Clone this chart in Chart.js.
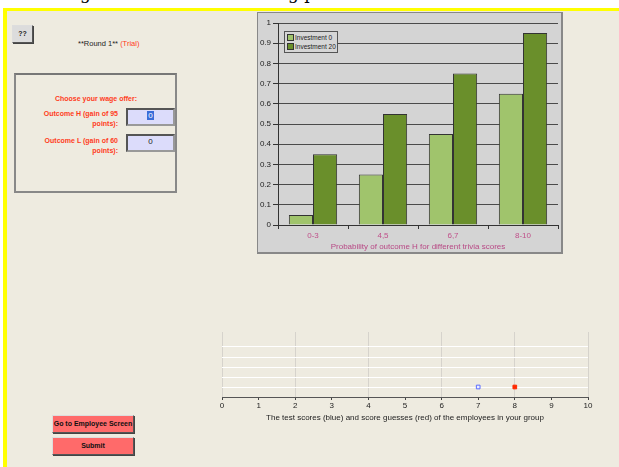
<!DOCTYPE html>
<html><head><meta charset="utf-8">
<script src="https://cdn.jsdelivr.net/npm/chart.js@4/dist/chart.umd.min.js"></script>
<style>
html,body{margin:0;padding:0;background:#fff;width:619px;height:467px;overflow:hidden;font-family:"Liberation Sans",Arial,sans-serif;}
#frame{position:absolute;left:3px;top:8px;width:640px;height:480px;background:#eeebe0;border-top:3px solid #ffff00;border-left:4px solid #ffff00;}
.abs{position:absolute;}
#cap{position:absolute;left:0;top:-17px;font-family:"DejaVu Serif",serif;font-size:17px;color:#000;white-space:nowrap;}
.btn{position:absolute;box-sizing:border-box;border:1px solid #555;border-top-color:#ddd;border-left-color:#ddd;box-shadow:1px 1px 0 #444;font-size:7px;font-weight:bold;text-align:center;}
#qq{left:12px;top:25px;width:21px;height:18px;background:#dcdcdc;line-height:16px;color:#222;}
.red{color:#ff3c1c;}
#box{left:14px;top:73px;width:163px;height:120px;box-sizing:border-box;border:2px solid #888;border-top-color:#777;}
.lbl{position:absolute;font-size:7px;font-weight:bold;color:#ff3c1c;text-align:right;line-height:10px;}
.inp{position:absolute;box-sizing:border-box;width:49px;height:18px;background:#dcdcfb;border:2px solid #555;border-right-color:#999;border-bottom-color:#999;font-size:8px;text-align:center;line-height:12px;color:#222;}
.sbtn{left:52px;width:82px;height:18px;background:#ff6a6a;line-height:16px;color:#111;font-size:7px;}
#panel{left:257px;top:12px;width:306px;height:242px;box-sizing:border-box;background:#d4d4d4;border:1px solid #888;border-right:2px solid #888;border-bottom:2px solid #888;}
#barc{position:absolute;left:257px;top:12px;}
#legend{position:absolute;left:284px;top:31px;width:54px;height:22px;box-sizing:border-box;border:1px solid #555;background:#d6d6d6;font-size:6.5px;color:#222;}
.li{position:absolute;left:2px;white-space:nowrap;line-height:8px;}
.sw{display:inline-block;width:5px;height:5px;border:1px solid #333;vertical-align:-1px;margin-right:1px;}
#scat{position:absolute;left:200px;top:320px;}
</style></head><body>
<div id="cap"><span style="position:absolute;left:80px">g</span><span style="position:absolute;left:288px">g p</span></div>
<div id="frame"></div>
<div class="btn abs" id="qq">??</div>
<div class="abs" style="left:78px;top:39px;font-size:7.5px;color:#222;white-space:nowrap">**Round 1** <span class="red">(Trial)</span></div>
<div class="abs" id="box"></div>
<div class="lbl" style="left:40px;top:94px;width:112px;text-align:center">Choose your wage offer:</div>
<div class="lbl" style="left:20px;top:109px;width:98px">Outcome H (gain of 95<br>points):</div>
<div class="inp" style="left:126px;top:108px"><span style="background:#3a6cd8;color:#fff;padding:0 1px">0</span></div>
<div class="lbl" style="left:20px;top:136px;width:98px">Outcome L (gain of 60<br>points):</div>
<div class="inp" style="left:126px;top:134px">0</div>
<div class="btn sbtn" style="top:415px">Go to Employee Screen</div>
<div class="btn sbtn" style="top:437px">Submit</div>
<div class="abs" id="panel"></div>
<canvas id="barc" width="306" height="242"></canvas>
<div id="legend"></div>
<canvas id="scat" width="410" height="110"></canvas>
<script>
const categories = ["0-3", "4,5", "6,7", "8-10"];
const investment0 = [0.05, 0.25, 0.45, 0.65];
const investment20 = [0.35, 0.55, 0.75, 0.95];
const seriesNames = ["Investment 0", "Investment 20"];
const barXTitle = "Probability of outcome H for different trivia scores";
const testScores = [7];
const scoreGuesses = [8];
const scatterXTitle = "The test scores (blue) and score guesses (red) of the employees in your group";

const lightG = '#a0c46c', darkG = '#6a8f2b';
const FONT = '"Liberation Sans", Arial, sans-serif';

const barChart = new Chart(document.getElementById('barc'), {
  type: 'bar',
  data: {
    labels: categories,
    datasets: [
      {label: seriesNames[0], data: investment0, backgroundColor: lightG, borderColor: '#333', borderWidth: 1, borderSkipped: 'bottom'},
      {label: seriesNames[1], data: investment20, backgroundColor: darkG, borderColor: '#333', borderWidth: 1, borderSkipped: 'bottom'}
    ]
  },
  options: {
    responsive: false, animation: false,
    layout: {padding: {left: 0, right: 5, top: 11, bottom: 0}},
    datasets: {bar: {categoryPercentage: 0.69, barPercentage: 1}},
    plugins: {legend: {display: false}, tooltip: {enabled: false}},
    scales: {
      x: {
        grid: {offset: true, drawOnChartArea: false, drawTicks: true, tickLength: 4, tickColor: '#333'},
        border: {color: '#333', width: 1},
        ticks: {color: '#c0508a', font: {family: FONT, size: 8}, padding: 2},
        title: {display: true, text: barXTitle, color: '#b84a86', font: {family: FONT, size: 8}, padding: {top: 0, bottom: 2}},
        afterFit: s => { s.height = 29; }
      },
      y: {
        min: 0, max: 1,
        ticks: {stepSize: 0.1, color: '#222', font: {family: FONT, size: 8}, padding: 2,
          callback: v => (Math.round(v*10)/10).toString()},
        grid: {color: '#4a4a4a', lineWidth: 1, tickLength: 5, tickColor: '#333'},
        border: {color: '#333', width: 1},
        afterFit: s => { s.width = 21; }
      }
    }
  }
});

// legend built from the datasets
const lg = document.getElementById('legend');
barChart.data.datasets.forEach((d, i) => {
  const e = document.createElement('div');
  e.className = 'li';
  e.style.top = (2 + i * 9) + 'px';
  e.innerHTML = '<span class="sw" style="background:' + d.backgroundColor + '"></span>' + d.label;
  lg.appendChild(e);
});

new Chart(document.getElementById('scat'), {
  type: 'scatter',
  data: {
    datasets: [
      {label: 'scores', data: testScores.map(v => ({x: v, y: 1})), pointStyle: 'rect', pointRadius: 2.6, borderColor: '#5a6cff', backgroundColor: '#eef0ff', borderWidth: 1},
      {label: 'guesses', data: scoreGuesses.map(v => ({x: v, y: 1})), pointStyle: 'rect', pointRadius: 2.6, borderColor: '#ff2a00', backgroundColor: '#ff2a00', borderWidth: 1}
    ]
  },
  options: {
    responsive: false, animation: false,
    layout: {padding: {left: 22, right: 22, top: 12, bottom: 0}},
    plugins: {legend: {display: false}, tooltip: {enabled: false}},
    scales: {
      x: {
        type: 'linear', min: 0, max: 10,
        ticks: {stepSize: 1, color: '#222', font: {family: FONT, size: 8}, padding: 1},
        grid: {color: c => (c.tick && c.tick.value % 2 === 0) ? '#d6d3cc' : 'rgba(0,0,0,0)', tickColor: '#444', tickLength: 3},
        border: {color: '#555', width: 1},
        title: {display: true, text: scatterXTitle, color: '#222', font: {family: FONT, size: 8}, padding: {top: 2, bottom: 7}},
        afterFit: s => { s.height = 33; }
      },
      y: {
        min: 0, max: 6.5,
        ticks: {display: false, stepSize: 1},
        grid: {color: c => (c.tick && c.tick.value >= 1 && c.tick.value <= 6 && Number.isInteger(c.tick.value)) ? '#ffffff' : 'rgba(0,0,0,0)', drawTicks: false, lineWidth: 1},
        border: {display: false},
        afterFit: s => { s.width = 0; }
      }
    }
  }
});
</script>
</body></html>
